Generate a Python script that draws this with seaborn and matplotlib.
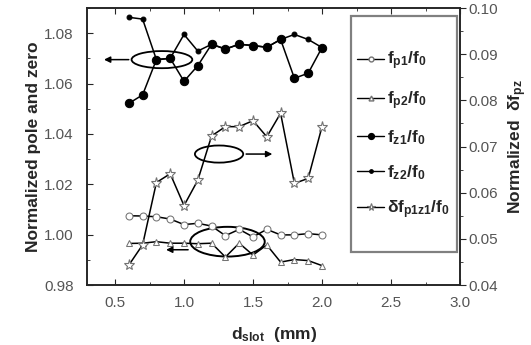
import matplotlib
matplotlib.use("Agg")
import matplotlib.pyplot as plt
from matplotlib.patches import Ellipse, Rectangle
from matplotlib.lines import Line2D
from matplotlib.ticker import MultipleLocator, FormatStrFormatter
import pandas as pd
import seaborn as sns

# data
d_slot = [0.6, 0.7, 0.8, 0.9, 1.0, 1.1, 1.2, 1.3, 1.4, 1.5, 1.6, 1.7, 1.8, 1.9, 2.0]
fp1 = [1.0075, 1.0074, 1.0071, 1.0062, 1.0040, 1.0045, 1.0034, 0.9996, 1.0021,
       0.9991, 1.0021, 0.9999, 0.9999, 1.0004, 0.9999]
fp2 = [0.9965, 0.9966, 0.9972, 0.9966, 0.9966, 0.9964, 0.9966, 0.9911, 0.9966,
       0.9919, 0.9959, 0.9891, 0.9901, 0.9897, 0.9877]
fz1 = [1.0521, 1.0555, 1.0695, 1.0700, 1.0609, 1.0671, 1.0756, 1.0737, 1.0756,
       1.0751, 1.0744, 1.0775, 1.0621, 1.0641, 1.0743]
fz2 = [1.0863, 1.0856, 1.0695, 1.0700, 1.0795, 1.0729, 1.0756, 1.0737, 1.0756,
       1.0751, 1.0744, 1.0775, 1.0795, 1.0775, 1.0743]
dfp1z1 = [0.0443, 0.0487, 0.0622, 0.0641, 0.0572, 0.0627, 0.0723, 0.0743, 0.0743,
          0.0756, 0.0721, 0.0772, 0.0620, 0.0631, 0.0743]

labels = [r"$f_{p1}/f_0$", r"$f_{p2}/f_0$", r"$f_{z1}/f_0$", r"$f_{z2}/f_0$",
          r"$\delta f_{p1z1}/f_0$"]

df = pd.DataFrame({"d": d_slot, "fp1": fp1, "fp2": fp2, "fz1": fz1,
                   "fz2": fz2, "dfp": dfp1z1})

sns.set_style("ticks")
plt.rcParams["font.family"] = ["Liberation Sans", "DejaVu Sans"]
plt.rcParams["mathtext.fontset"] = "custom"
plt.rcParams["mathtext.rm"] = "Liberation Sans"
plt.rcParams["mathtext.it"] = "Liberation Sans:italic"
plt.rcParams["mathtext.bf"] = "Liberation Sans:bold"
plt.rcParams["mathtext.default"] = "bf"

styles = [
    dict(marker="o", markersize=5, markerfacecolor="white", markeredgecolor="0.45"),
    dict(marker="^", markersize=5, markerfacecolor="white", markeredgecolor="0.45"),
    dict(marker="o", markersize=6, markerfacecolor="black", markeredgecolor="black"),
    dict(marker="o", markersize=3.5, markerfacecolor="black", markeredgecolor="black"),
    dict(marker="*", markersize=8, markerfacecolor="white", markeredgecolor="0.45",
         markeredgewidth=0.8),
]

fig = plt.figure(figsize=(5.31, 3.45), dpi=100)
ax = fig.add_axes([0.1646, 0.1739, 0.7017, 0.8029])
ax2 = ax.twinx()

for col, st in zip(["fp1", "fp2", "fz1", "fz2"], styles[:4]):
    sns.lineplot(data=df, x="d", y=col, ax=ax, color="black", lw=1.1, **st)
sns.lineplot(data=df, x="d", y="dfp", ax=ax2, color="black", lw=1.1, **styles[4])

ax.set_xlim(0.3, 3.0)
ax.set_ylim(0.98, 1.09)
ax2.set_ylim(0.04, 0.10)

ax.xaxis.set_major_locator(MultipleLocator(0.5))
ax.xaxis.set_minor_locator(MultipleLocator(0.25))
ax.yaxis.set_major_locator(MultipleLocator(0.02))
ax.yaxis.set_minor_locator(MultipleLocator(0.01))
ax2.yaxis.set_major_locator(MultipleLocator(0.01))
ax2.yaxis.set_minor_locator(MultipleLocator(0.005))
ax.yaxis.set_major_formatter(FormatStrFormatter("%.2f"))
ax2.yaxis.set_major_formatter(FormatStrFormatter("%.2f"))

ax.tick_params(axis="x", which="both", direction="in", top=True, labelsize=11,
               labelcolor="#555555", pad=8)
ax.tick_params(axis="y", which="both", direction="in", labelsize=11,
               labelcolor="#555555", pad=10)
ax2.tick_params(axis="y", which="both", direction="out", labelsize=11,
                labelcolor="#555555", pad=2)
ax.tick_params(which="major", length=4)
ax.tick_params(which="minor", length=2.5)
ax2.tick_params(which="major", length=4)
ax2.tick_params(which="minor", length=2.5)
for a in (ax, ax2):
    for s in a.spines.values():
        s.set_linewidth(1.2)

ax.set_xlabel(r"$d_{slot}$  (mm)", fontsize=12.5, fontweight="bold", labelpad=11)
ax.set_ylabel("Normalized pole and zero", fontsize=12.5, fontweight="bold", labelpad=2)
ax2.set_ylabel(r"Normalized  $\delta f_{pz}$", fontsize=12.5, fontweight="bold",
               labelpad=6)

# ellipses and arrows marking which axis each group belongs to
ax.add_patch(Ellipse((0.84, 1.0695), 0.44, 0.0068, fill=False, lw=1.3, ec="black"))
ax.annotate("", xy=(0.40, 1.0695), xytext=(0.62, 1.0695),
            arrowprops=dict(arrowstyle="-|>", color="black", lw=1.1, mutation_scale=9))
ax.add_patch(Ellipse((1.254, 1.032), 0.35, 0.0068, fill=False, lw=1.3, ec="black"))
ax.annotate("", xy=(1.66, 1.032), xytext=(1.43, 1.032),
            arrowprops=dict(arrowstyle="-|>", color="black", lw=1.1, mutation_scale=9))
ax.add_patch(Ellipse((1.315, 0.9972), 0.54, 0.0118, fill=False, lw=1.4, ec="black"))
ax.annotate("", xy=(0.85, 0.9940), xytext=(1.05, 0.9940),
            arrowprops=dict(arrowstyle="-|>", color="black", lw=1.1, mutation_scale=9))

# legend box
ax.add_patch(Rectangle((0.707, 0.118), 0.284, 0.854, transform=ax.transAxes,
                       fill=False, ec="0.5", lw=1.6, zorder=5))
handles = [Line2D([], [], color="black", lw=1.0, **dict(st, markersize=st["markersize"] * 0.7))
           for st in styles]
ax.legend(handles, labels, loc="center left", bbox_to_anchor=(0.69, 0.54),
          frameon=False, fontsize=12.5, handlelength=1.6, handletextpad=0.15,
          labelspacing=0.95, borderpad=0.2)

fig.savefig("out.png", dpi=100)
